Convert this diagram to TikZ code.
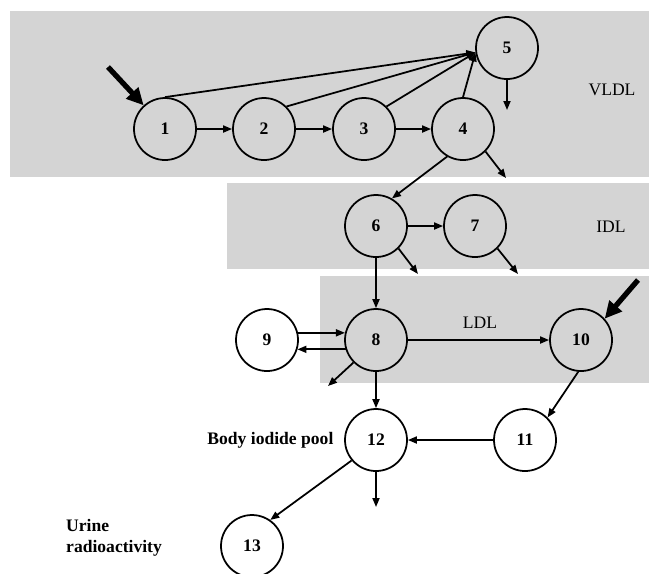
\documentclass[tikz,border=0pt]{standalone}
\usepackage{fontspec}
\setmainfont{Liberation Serif}
\usepackage{tikz}
\usetikzlibrary{arrows.meta, positioning}
\definecolor{bandgray}{RGB}{212,212,212}

\begin{document}
\begin{tikzpicture}[
    x=0.2mm, y=-0.2mm,
    pool/.style={circle, draw, line width=1pt, minimum size=12.4mm, inner sep=0pt, font=\bfseries},
    band/.style={fill=bandgray, draw=none},
    lbl/.style={font=\normalsize},
    arr/.style={-{Triangle[length=1.8mm, width=1.4mm]}, line width=1pt},
    dose/.style={-{Triangle[length=3.4mm, width=3.2mm]}, line width=3pt},
]
\useasboundingbox (0,0) rectangle (649,573);
\fill[white] (0,0) rectangle (649,573);

\fill[band] (10,11) rectangle (649,177);
\fill[band] (227,183) rectangle (649,269);
\fill[band] (320,276) rectangle (649,383);

\node[lbl] (vldl) at (612,90) {VLDL};
\node[lbl] (idl) at (611,227) {IDL};
\node[lbl] (ldl) at (480,323) {LDL};

\node[pool] (n1) at (165,129) {1};
\node[pool] (n2) at (264,129) {2};
\node[pool] (n3) at (364,129) {3};
\node[pool] (n4) at (463,129) {4};
\node[pool] (n5) at (507,48) {5};
\node[pool] (n6) at (376,226) {6};
\node[pool] (n7) at (475,226) {7};
\node[pool] (n8) at (376,340) {8};
\node[pool] (n9) at (267,340) {9};
\node[pool] (n10) at (581,340) {10};
\node[pool] (n11) at (525,440) {11};
\node[pool] (n12) at (376,440) {12};
\node[pool] (n13) at (252,546) {13};

\node[lbl, font=\bfseries, left=0.9mm of n12] (body) {Body iodide pool};
\node[lbl, font=\bfseries, align=left, anchor=west] (urine) at (60,538) {Urine\\radioactivity};

\coordinate (in1) at (108,67);
\coordinate (in10) at (638,280);
\coordinate (out5) at (507,110);
\coordinate (out4) at (506,178);
\coordinate (out6) at (418,274);
\coordinate (out7) at (518,274);
\coordinate (out8) at (328,386);
\coordinate (out12) at (376,507);

\draw[dose] (in1) -- (n1.132);
\draw[dose] (in10) -- (n10.42);

\draw[arr] (n1) -- (n2);
\draw[arr] (n2) -- (n3);
\draw[arr] (n3) -- (n4);
\draw[arr] (n1.north) -- (n5.188);
\draw[arr] (n2.45) -- (n5.188);
\draw[arr] (n3.45) -- (n5.188);
\draw[arr] (n4.north) -- (n5.188);
\draw[arr] (n5.south) -- (out5);
\draw[arr] (n4.-45) -- (out4);
\draw[arr] (n4.-120) -- (n6.60);
\draw[arr] (n6) -- (n7);
\draw[arr] (n6.-45) -- (out6);
\draw[arr] (n7.-45) -- (out7);
\draw[arr] (n6) -- (n8);
\draw[arr] (n9.13) -- (n8.167);
\draw[arr] (n8.197) -- (n9.343);
\draw[arr] (n8) -- (n10);
\draw[arr] (n8.-135) -- (out8);
\draw[arr] (n10.-95) -- (n11.45);
\draw[arr] (n8) -- (n12);
\draw[arr] (n11) -- (n12);
\draw[arr] (n12.south) -- (out12);
\draw[arr] (n12.-140) -- (n13.55);
\end{tikzpicture}
\end{document}
